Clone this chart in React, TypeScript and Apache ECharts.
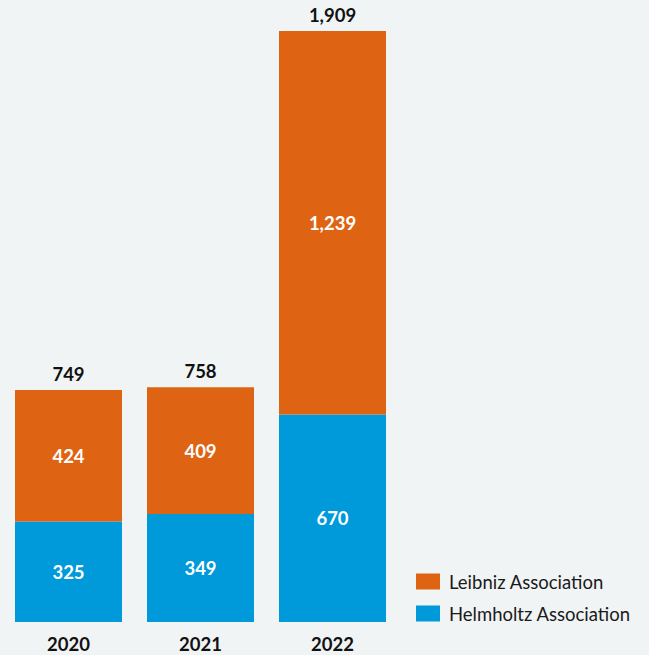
import React, { useEffect, useRef } from "react";
import * as echarts from "echarts";

const years = ["2020", "2021", "2022"];
const helmholtz = [325, 349, 670];
const leibniz = [424, 409, 1239];
const totals = [749, 758, 1909];

const fmt = (v: number) => v.toLocaleString("en-US");

export default function App() {
  const ref = useRef<HTMLDivElement>(null);
  useEffect(() => {
    if (!ref.current) return;
    const chart = echarts.init(ref.current, null, { renderer: "svg" });
    const font = "Lato, 'Noto Sans', sans-serif";
    const fs = 18.5;
    chart.setOption({
      animation: false,
      backgroundColor: "#F1F4F5",
      textStyle: { fontFamily: font },
      grid: { left: 2.5, width: 396, top: 31, height: 591, containLabel: false },
      legend: {
        data: ["Leibniz Association", "Helmholtz Association"],
        orient: "vertical",
        left: 416,
        top: 572,
        padding: 0,
        itemWidth: 24,
        itemHeight: 16,
        itemGap: 13,
        icon: "rect",
        textStyle: { fontFamily: font, fontSize: fs, color: "#1a1a1a", padding: [0, 0, 0, 4] },
      },
      xAxis: {
        type: "category",
        data: years,
        axisLine: { show: false },
        axisTick: { show: false },
        axisLabel: { fontFamily: font, fontWeight: "bold", fontSize: fs, color: "#111", margin: 12 },
      },
      yAxis: {
        type: "value",
        min: 0,
        max: 1909,
        show: false,
        splitLine: { show: false },
      },
      series: [
        {
          name: "Helmholtz Association",
          type: "bar",
          stack: "s",
          barWidth: 107,
          data: helmholtz,
          itemStyle: { color: "#0099DA" },
          label: {
            show: true,
            position: "inside",
            formatter: (p: any) => fmt(p.value),
            color: "#fff",
            fontWeight: "bold",
            fontSize: fs,
            fontFamily: font,
          },
        },
        {
          name: "Leibniz Association",
          type: "bar",
          stack: "s",
          barWidth: 107,
          data: leibniz,
          itemStyle: { color: "#DE6414" },
          label: {
            show: true,
            position: "inside",
            formatter: (p: any) => fmt(p.value),
            color: "#fff",
            fontWeight: "bold",
            fontSize: fs,
            fontFamily: font,
          },
        },
        {
          name: "Total",
          type: "bar",
          stack: "s",
          barWidth: 107,
          data: totals.map(() => 0),
          itemStyle: { color: "transparent" },
          label: {
            show: true,
            position: "top",
            distance: 7,
            formatter: (p: any) => fmt(totals[p.dataIndex]),
            color: "#111",
            fontWeight: "bold",
            fontSize: fs,
            fontFamily: font,
          },
        },
      ],
    });
    return () => chart.dispose();
  }, []);
  return (
    <div
      ref={ref}
      style={{ position: "fixed", left: 0, top: 0, width: 649, height: 655 }}
    />
  );
}
